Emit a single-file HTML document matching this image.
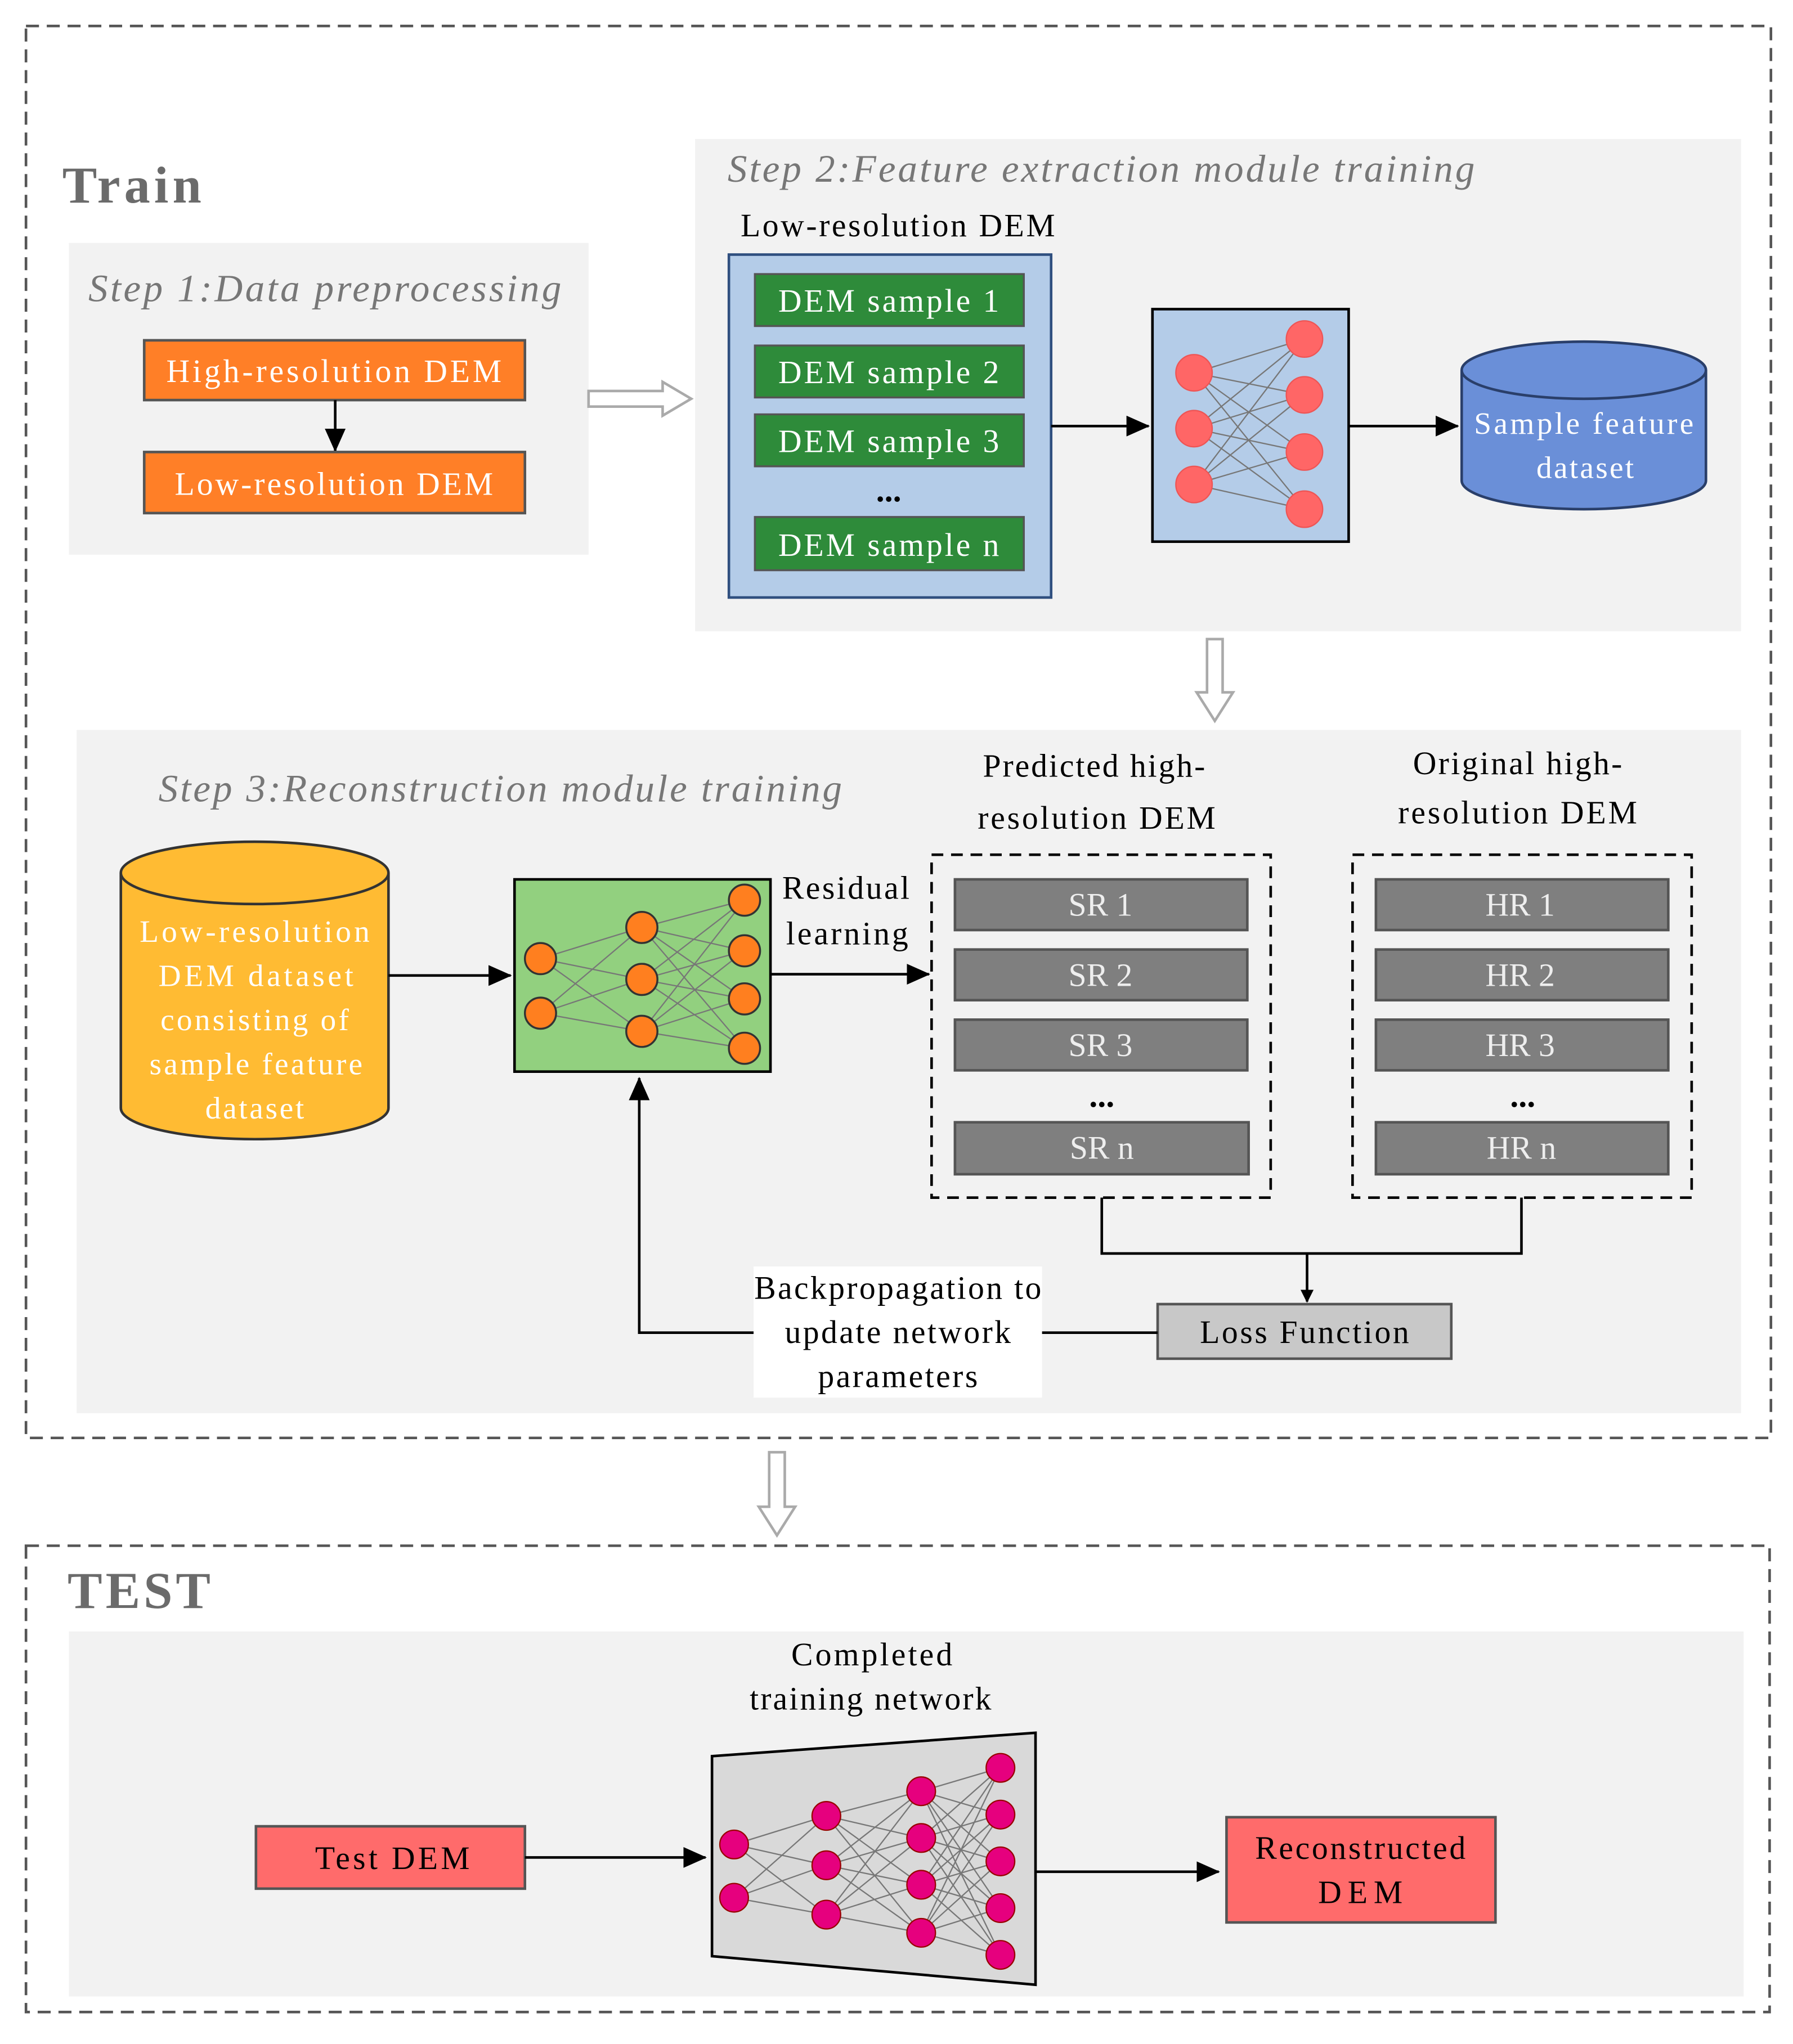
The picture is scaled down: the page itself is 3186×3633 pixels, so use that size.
<!DOCTYPE html>
<html><head><meta charset="utf-8"><style>
html,body{margin:0;padding:0;background:#fff;}
svg{display:block;}
text{font-family:"Liberation Serif",serif;}
</style></head><body>
<svg width="3186" height="3633" viewBox="0 0 1380 1573.6" preserveAspectRatio="none" xmlns="http://www.w3.org/2000/svg">
<defs>
<marker id="ar" markerWidth="10" markerHeight="10" refX="9" refY="5" orient="auto" markerUnits="userSpaceOnUse"><path d="M0,0 L10,5 L0,10 z" fill="#000"/></marker>
<marker id="ar2" markerWidth="18" markerHeight="16" refX="17" refY="8" orient="auto" markerUnits="userSpaceOnUse"><path d="M0,0 L18,8 L0,16 z" fill="#000"/></marker>
</defs>
<rect width="1380" height="1573.6" fill="#fff"/>
<rect x="20" y="20" width="1343" height="1087" fill="none" stroke="#555" stroke-width="2" stroke-dasharray="10,6"/>
<text x="48" y="156" font-size="40" font-weight="bold" fill="#6b6b6b" textLength="107" lengthAdjust="spacing">Train</text>
<rect x="53" y="187" width="400" height="240" fill="#f2f2f2"/>
<text x="68" y="232" font-size="30" font-style="italic" fill="#777" textLength="364" lengthAdjust="spacing">Step 1:Data preprocessing</text>
<rect x="111" y="262" width="293" height="46" fill="#ff7f27" stroke="#555" stroke-width="2"/>
<text x="257" y="294" font-size="25" fill="#fff" text-anchor="middle" textLength="258" lengthAdjust="spacing">High-resolution DEM</text>
<line x1="258" y1="308" x2="258" y2="347" stroke="#000" stroke-width="2" marker-end="url(#ar2)"/>
<rect x="111" y="348" width="293" height="47" fill="#ff7f27" stroke="#555" stroke-width="2"/>
<text x="257" y="381" font-size="25" fill="#fff" text-anchor="middle" textLength="245" lengthAdjust="spacing">Low-resolution DEM</text>
<path d="M453,301 L510,301 L510,294 L532,307 L510,320 L510,313 L453,313 z" fill="#fff" stroke="#aaa" stroke-width="2"/>
<rect x="535" y="107" width="805" height="379" fill="#f2f2f2"/>
<text x="560" y="140" font-size="30" font-style="italic" fill="#777" textLength="575" lengthAdjust="spacing">Step 2:Feature extraction module training</text>
<text x="570" y="182" font-size="25" fill="#000" textLength="242" lengthAdjust="spacing">Low-resolution DEM</text>
<rect x="561" y="196" width="248" height="264" fill="#b4cce8" stroke="#2f4f7f" stroke-width="2"/>
<g fill="#2e8b3a" stroke="#555" stroke-width="1.5">
<rect x="581" y="211" width="207" height="40"/><rect x="581" y="266" width="207" height="40"/><rect x="581" y="319" width="207" height="40"/><rect x="581" y="398" width="207" height="41"/></g>
<g font-size="25" fill="#fff" text-anchor="middle">
<text x="684" y="240" textLength="170" lengthAdjust="spacing">DEM sample 1</text><text x="684" y="295" textLength="170" lengthAdjust="spacing">DEM sample 2</text><text x="684" y="348" textLength="170" lengthAdjust="spacing">DEM sample 3</text><text x="684" y="428" textLength="170" lengthAdjust="spacing">DEM sample n</text></g>
<text x="684" y="386" font-size="26" font-weight="bold" text-anchor="middle">...</text>
<line x1="809" y1="328" x2="884" y2="328" stroke="#000" stroke-width="2" marker-end="url(#ar2)"/>
<rect x="887" y="238" width="151" height="179" fill="#b4cce8" stroke="#000" stroke-width="2"/>
<g stroke="#777" stroke-width="1">
<path d="M919,287L1004,261M919,287L1004,304M919,287L1004,348M919,287L1004,392M919,330L1004,261M919,330L1004,304M919,330L1004,348M919,330L1004,392M919,373L1004,261M919,373L1004,304M919,373L1004,348M919,373L1004,392"/></g>
<g fill="#ff6666" stroke="#e55" stroke-width="1">
<circle cx="919" cy="287" r="14"/><circle cx="919" cy="330" r="14"/><circle cx="919" cy="373" r="14"/>
<circle cx="1004" cy="261" r="14"/><circle cx="1004" cy="304" r="14"/><circle cx="1004" cy="348" r="14"/><circle cx="1004" cy="392" r="14"/></g>
<line x1="1038" y1="328" x2="1122" y2="328" stroke="#000" stroke-width="2" marker-end="url(#ar2)"/>
<path d="M1125,285 L1125,370 A94,22 0 0 0 1313,370 L1313,285" fill="#6a8fd8" stroke="#2a3f6a" stroke-width="2"/>
<ellipse cx="1219" cy="285" rx="94" ry="22" fill="#6a8fd8" stroke="#2a3f6a" stroke-width="2"/>
<text x="1219" y="334" font-size="24" fill="#fff" text-anchor="middle" textLength="169" lengthAdjust="spacing">Sample feature</text>
<text x="1220" y="368" font-size="24" fill="#fff" text-anchor="middle" textLength="75" lengthAdjust="spacing">dataset</text>
<path d="M929,492 L941,492 L941,533 L949,533 L935,555 L921,533 L929,533 z" fill="#fff" stroke="#aaa" stroke-width="2"/>
<rect x="59" y="562" width="1281" height="526" fill="#f2f2f2"/>
<text x="122" y="617" font-size="30" font-style="italic" fill="#777" textLength="526" lengthAdjust="spacing">Step 3:Reconstruction module training</text>
<path d="M93,672 L93,853 A103,24 0 0 0 299,853 L299,672" fill="#ffbb33" stroke="#333" stroke-width="2"/>
<ellipse cx="196" cy="672" rx="103" ry="24" fill="#ffbb33" stroke="#333" stroke-width="2"/>
<g font-size="24" fill="#fff" text-anchor="middle">
<text x="196" y="725" textLength="177" lengthAdjust="spacing">Low-resolution</text><text x="197" y="759" textLength="150" lengthAdjust="spacing">DEM dataset</text><text x="196" y="793" textLength="145" lengthAdjust="spacing">consisting of</text><text x="197" y="827" textLength="164" lengthAdjust="spacing">sample feature</text><text x="196" y="861" textLength="76" lengthAdjust="spacing">dataset</text></g>
<line x1="299" y1="751" x2="393" y2="751" stroke="#000" stroke-width="2" marker-end="url(#ar2)"/>
<rect x="396" y="677" width="197" height="148" fill="#92d07f" stroke="#000" stroke-width="2"/>
<g stroke="#777" stroke-width="1">
<path d="M416,738L494,714M416,738L494,754M416,738L494,794M416,780L494,714M416,780L494,754M416,780L494,794M494,714L573,693M494,714L573,732M494,714L573,769M494,714L573,807M494,754L573,693M494,754L573,732M494,754L573,769M494,754L573,807M494,794L573,693M494,794L573,732M494,794L573,769M494,794L573,807"/></g>
<g fill="#ff7f1f" stroke="#333" stroke-width="1.5">
<circle cx="416" cy="738" r="12"/><circle cx="416" cy="780" r="12"/>
<circle cx="494" cy="714" r="12"/><circle cx="494" cy="754" r="12"/><circle cx="494" cy="794" r="12"/>
<circle cx="573" cy="693" r="12"/><circle cx="573" cy="732" r="12"/><circle cx="573" cy="769" r="12"/><circle cx="573" cy="807" r="12"/></g>
<text x="651" y="692" font-size="25" text-anchor="middle" textLength="98" lengthAdjust="spacing">Residual</text>
<text x="652" y="727" font-size="25" text-anchor="middle" textLength="94" lengthAdjust="spacing">learning</text>
<line x1="593" y1="750" x2="715" y2="750" stroke="#000" stroke-width="2" marker-end="url(#ar2)"/>
<text x="842" y="598" font-size="25" text-anchor="middle" textLength="171" lengthAdjust="spacing">Predicted high-</text>
<text x="844" y="638" font-size="25" text-anchor="middle" textLength="183" lengthAdjust="spacing">resolution DEM</text>
<text x="1168" y="596" font-size="25" text-anchor="middle" textLength="161" lengthAdjust="spacing">Original high-</text>
<text x="1168" y="634" font-size="25" text-anchor="middle" textLength="184" lengthAdjust="spacing">resolution DEM</text>
<rect x="717" y="658" width="261" height="264" fill="none" stroke="#000" stroke-width="2" stroke-dasharray="9,6"/>
<rect x="1041" y="658" width="261" height="264" fill="none" stroke="#000" stroke-width="2" stroke-dasharray="9,6"/>
<g fill="#7f7f7f" stroke="#555" stroke-width="2">
<rect x="735" y="677" width="225" height="39"/><rect x="735" y="731" width="225" height="39"/><rect x="735" y="785" width="225" height="39"/><rect x="735" y="864" width="226" height="40"/>
<rect x="1059" y="677" width="225" height="39"/><rect x="1059" y="731" width="225" height="39"/><rect x="1059" y="785" width="225" height="39"/><rect x="1059" y="864" width="225" height="40"/></g>
<g font-size="25" fill="#eee" text-anchor="middle">
<text x="847" y="705">SR 1</text><text x="847" y="759">SR 2</text><text x="847" y="813">SR 3</text><text x="848" y="892">SR n</text>
<text x="1170" y="705">HR 1</text><text x="1170" y="759">HR 2</text><text x="1170" y="813">HR 3</text><text x="1171" y="892">HR n</text></g>
<text x="848" y="852" font-size="26" font-weight="bold" text-anchor="middle">...</text>
<text x="1172" y="852" font-size="26" font-weight="bold" text-anchor="middle">...</text>
<path d="M848,922 L848,965 L1171,965 L1171,922" fill="none" stroke="#000" stroke-width="2"/>
<line x1="1006" y1="965" x2="1006" y2="1002" stroke="#000" stroke-width="2" marker-end="url(#ar)"/>
<rect x="891" y="1004" width="226" height="42" fill="#c8c8c8" stroke="#555" stroke-width="2"/>
<text x="1004" y="1034" font-size="25" text-anchor="middle" textLength="161" lengthAdjust="spacing">Loss Function</text>
<line x1="891" y1="1026" x2="802" y2="1026" stroke="#000" stroke-width="2"/>
<rect x="580" y="975" width="222" height="101" fill="#fff"/>
<g font-size="25" text-anchor="middle"><text x="691" y="1000" textLength="221" lengthAdjust="spacing">Backpropagation to</text><text x="691" y="1034" textLength="174" lengthAdjust="spacing">update network</text><text x="691" y="1068" textLength="123" lengthAdjust="spacing">parameters</text></g>
<path d="M580,1026 L492,1026 L492,830" fill="none" stroke="#000" stroke-width="2" marker-end="url(#ar2)"/>
<path d="M592,1118 L604,1118 L604,1160 L612,1160 L598,1182 L584,1160 L592,1160 z" fill="#fff" stroke="#aaa" stroke-width="2"/>
<rect x="20" y="1190" width="1342" height="359" fill="none" stroke="#555" stroke-width="2" stroke-dasharray="10,6"/>
<rect x="53" y="1256" width="1289" height="281" fill="#f2f2f2"/>
<text x="52" y="1238" font-size="40" font-weight="bold" fill="#6b6b6b" textLength="110" lengthAdjust="spacing">TEST</text>
<text x="671" y="1282" font-size="25" text-anchor="middle" textLength="124" lengthAdjust="spacing">Completed</text>
<text x="670" y="1316" font-size="25" text-anchor="middle" textLength="186" lengthAdjust="spacing">training network</text>
<polygon points="548,1352 797,1334 797,1528 548,1506" fill="#d9d9d9" stroke="#000" stroke-width="2"/>
<g stroke="#777" stroke-width="1">
<path d="M565,1420L636,1398M565,1420L636,1436M565,1420L636,1474M565,1461L636,1398M565,1461L636,1436M565,1461L636,1474
M636,1398L709,1379M636,1398L709,1415M636,1398L709,1451M636,1398L709,1488M636,1436L709,1379M636,1436L709,1415M636,1436L709,1451M636,1436L709,1488M636,1474L709,1379M636,1474L709,1415M636,1474L709,1451M636,1474L709,1488
M709,1379L770,1361M709,1379L770,1397M709,1379L770,1433M709,1379L770,1469M709,1379L770,1505M709,1415L770,1361M709,1415L770,1397M709,1415L770,1433M709,1415L770,1469M709,1415L770,1505M709,1451L770,1361M709,1451L770,1397M709,1451L770,1433M709,1451L770,1469M709,1451L770,1505M709,1488L770,1361M709,1488L770,1397M709,1488L770,1433M709,1488L770,1469M709,1488L770,1505"/></g>
<g fill="#e6007e" stroke="#900" stroke-width="1">
<circle cx="565" cy="1420" r="11"/><circle cx="565" cy="1461" r="11"/>
<circle cx="636" cy="1398" r="11"/><circle cx="636" cy="1436" r="11"/><circle cx="636" cy="1474" r="11"/>
<circle cx="709" cy="1379" r="11"/><circle cx="709" cy="1415" r="11"/><circle cx="709" cy="1451" r="11"/><circle cx="709" cy="1488" r="11"/>
<circle cx="770" cy="1361" r="11"/><circle cx="770" cy="1397" r="11"/><circle cx="770" cy="1433" r="11"/><circle cx="770" cy="1469" r="11"/><circle cx="770" cy="1505" r="11"/></g>
<rect x="197" y="1406" width="207" height="48" fill="#ff6b6b" stroke="#555" stroke-width="2"/>
<text x="302" y="1439" font-size="25" text-anchor="middle" textLength="119" lengthAdjust="spacing">Test DEM</text>
<line x1="404" y1="1430" x2="543" y2="1430" stroke="#000" stroke-width="2" marker-end="url(#ar2)"/>
<line x1="797" y1="1441" x2="938" y2="1441" stroke="#000" stroke-width="2" marker-end="url(#ar2)"/>
<rect x="944" y="1399" width="207" height="81" fill="#ff6b6b" stroke="#555" stroke-width="2"/>
<text x="1047" y="1431" font-size="25" text-anchor="middle" textLength="162" lengthAdjust="spacing">Reconstructed</text>
<text x="1047" y="1465" font-size="25" text-anchor="middle" textLength="65" lengthAdjust="spacing">DEM</text>
</svg>
</body></html>
